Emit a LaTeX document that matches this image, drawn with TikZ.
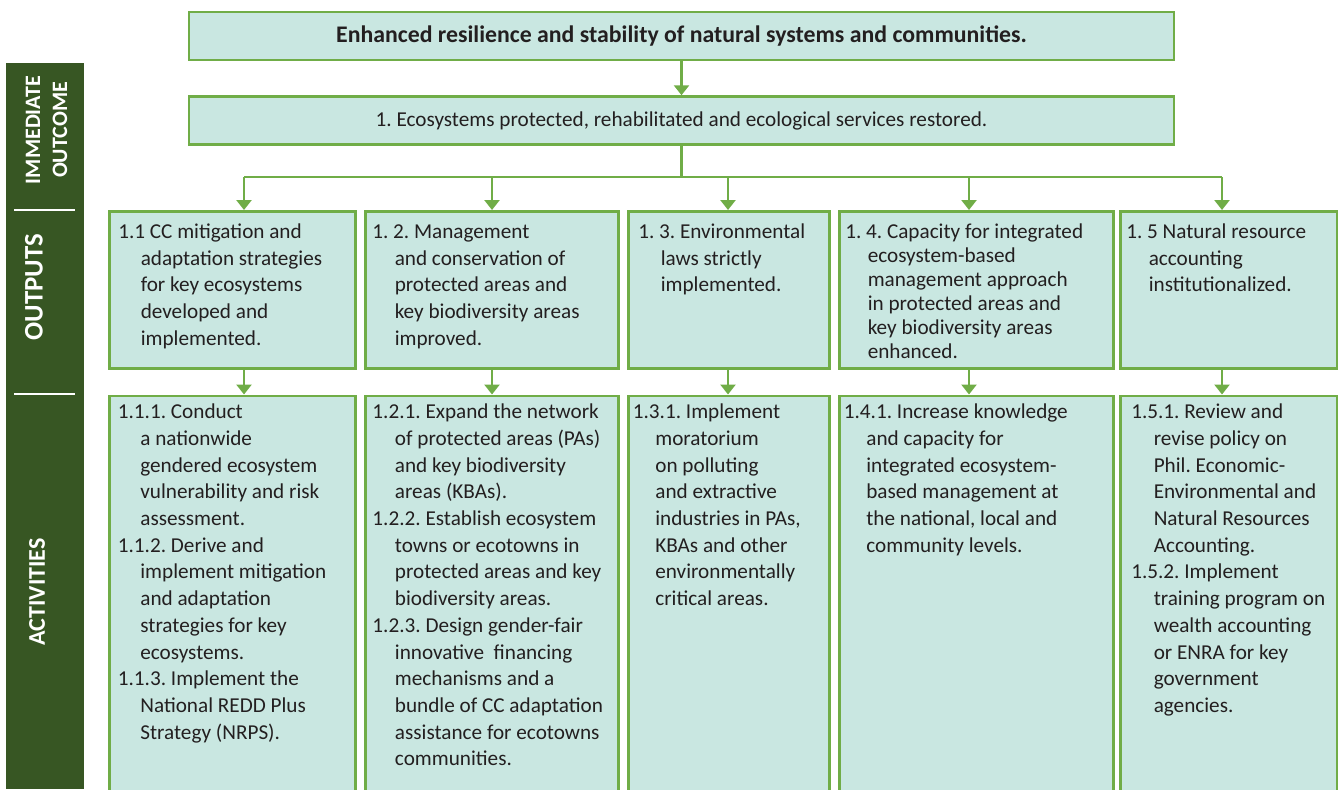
\documentclass[tikz,border=0pt]{standalone}
\usepackage{fontspec}
\setmainfont{Carlito}
\usetikzlibrary{arrows.meta, positioning}

\definecolor{leafgreen}{HTML}{70AD47}
\definecolor{mint}{HTML}{C9E7E1}
\definecolor{forestdark}{HTML}{375623}
\definecolor{inkgray}{HTML}{231F20}

\frenchspacing
% one numbered entry with hanging indent
\newcommand{\hitem}[1]{\par\noindent\rule{0pt}{9pt}\hangindent=11.25pt\hangafter=1\relax #1\par}
% fixed size text block: width, height, left inset, entries
\newcommand{\cellbox}[4]{\parbox[t][#2][t]{#1}{\leftskip=#3\rightskip=-3pt\relax #4}}

\begin{document}
\begin{tikzpicture}[x=0.5pt, y=-0.5pt,
  headbox/.style={draw=leafgreen, fill=mint, line width=1.25pt, minimum width=492.5pt, minimum height=24pt, inner sep=0pt, text=inkgray, font=\fontsize{10.6}{13.35}\selectfont},
  cell/.style={draw=leafgreen, fill=mint, line width=1.25pt, anchor=north west, inner xsep=0pt, text=inkgray, font=\fontsize{10.6}{13.35}\selectfont},
  outcell/.style={cell, inner ysep=4.6pt},
  actcell/.style={cell, inner ysep=2.5pt},
  wire/.style={draw=leafgreen, line width=1.25pt},
  flow/.style={wire, -{Triangle[width=7.5pt,length=5pt]}},
  railtext/.style={rotate=90, align=center, text=white, font=\bfseries\fontsize{12}{13.5}\selectfont}
]

\useasboundingbox (0,0) rectangle (1338,789);

% side rail
\node[fill=forestdark, minimum width=39pt, minimum height=363pt, inner sep=0pt, anchor=north west] (rail) at (6,63) {};
\draw[white, line width=1.25pt] (14,210) -- (75,210);
\draw[white, line width=1.25pt] (14,394) -- (75,394);
\node[railtext, font=\bfseries\fontsize{11}{13.5}\selectfont] (railio) at (46.5,130) {IMMEDIATE\\OUTCOME};
\node[railtext, font=\bfseries\fontsize{13.4}{13.5}\selectfont] (railout) at (34,287) {OUTPUTS};
\node[railtext] (railact) at (37,592) {ACTIVITIES};

% goal and immediate outcome
\node[headbox, font=\bfseries\fontsize{11.9}{13.35}\selectfont] (goal) at (681.5,36) {Enhanced resilience and stability of natural systems and communities.};
\node[headbox, below=17pt of goal] (outc) {1. Ecosystems protected, rehabilitated and ecological services restored.};
\draw[flow] (goal) -- (outc);

% bus to the outputs
\coordinate (k1) at (244,177);
\coordinate (k2) at (492,177);
\coordinate (k3) at (728,177);
\coordinate (k4) at (969,177);
\coordinate (k5) at (1222,177);
\draw[wire] (outc.south) -- (outc.south |- k1);
\draw[wire] (k1) -- (k5);

% outputs
\node[outcell] (o1) at (108,210) {\cellbox{123pt}{69.3pt}{4.5pt}{\hitem{1.1 CC mitigation and\\ adaptation strategies\\ for key ecosystems\\ developed and\\ implemented.}}};
\node[outcell] (o2) at (364,210) {\cellbox{126.5pt}{69.3pt}{3.5pt}{\hitem{1. 2. Management\\ and conservation of\\ protected areas and\\ key biodiversity areas\\ improved.}}};
\node[outcell] (o3) at (627,210) {\cellbox{100.5pt}{69.3pt}{5pt}{\hitem{1. 3. Environmental\\ laws strictly\\ implemented.}}};
\node[outcell, font=\fontsize{10.6}{12}\selectfont] (o4) at (838,210) {\cellbox{137pt}{69.3pt}{3pt}{\hitem{1. 4. Capacity for integrated\\ ecosystem-based\\ management approach\\ in protected areas and\\ key biodiversity areas\\ enhanced.}}};
\node[outcell] (o5) at (1119,210) {\cellbox{108.5pt}{69.3pt}{3pt}{\hitem{1. 5 Natural resource\\ accounting\\ institutionalized.}}};

% activities
\node[actcell] (a1) at ([yshift=-12.5pt]o1.south west) {\cellbox{123pt}{197.5pt}{4.3pt}{%
  \hitem{1.1.1. Conduct\\ a nationwide\\ gendered ecosystem\\ vulnerability and risk\\ assessment.}
  \hitem{1.1.2. Derive and\\ implement mitigation\\ and adaptation\\ strategies for key\\ ecosystems.}
  \hitem{1.1.3. Implement the\\ National REDD Plus\\ Strategy (NRPS).}}};
\node[actcell] (a2) at ([yshift=-12.5pt]o2.south west) {\cellbox{126.5pt}{197.5pt}{3.6pt}{%
  \hitem{1.2.1. Expand the network\\ of protected areas (PAs)\\ and key biodiversity\\ areas (KBAs).}
  \hitem{1.2.2. Establish ecosystem\\ towns or ecotowns in\\ protected areas and key\\ biodiversity areas.}
  \hitem{1.2.3. Design gender-fair\\ innovative~ financing\\ mechanisms and a\\ bundle of CC adaptation\\ assistance for ecotowns\\ communities.}}};
\node[actcell] (a3) at ([yshift=-12.5pt]o3.south west) {\cellbox{100.5pt}{197.5pt}{2.3pt}{%
  \hitem{1.3.1. Implement\\ moratorium\\ on polluting\\ and extractive\\ industries in PAs,\\ KBAs and other\\ environmentally\\ critical areas.}}};
\node[actcell] (a4) at ([yshift=-12.5pt]o4.south west) {\cellbox{137pt}{197.5pt}{2.3pt}{%
  \hitem{1.4.1. Increase knowledge\\ and capacity for\\ integrated ecosystem-\\ based management at\\ the national, local and\\ community levels.}}};
\node[actcell] (a5) at ([yshift=-12.5pt]o5.south west) {\cellbox{108.5pt}{197.5pt}{5.5pt}{%
  \hitem{1.5.1. Review and\\ revise policy on\\ Phil. Economic-\\ Environmental and\\ Natural Resources\\ Accounting.}
  \hitem{1.5.2. Implement\\ training program on\\ wealth accounting\\ or ENRA for key\\ government\\ agencies.}}};

% arrows into outputs and activities
\foreach \i in {1,...,5} {
  \draw[flow] (k\i) -- (k\i |- o\i.north);
  \draw[flow] (k\i |- o\i.south) -- (k\i |- a\i.north);
}

\end{tikzpicture}
\end{document}
